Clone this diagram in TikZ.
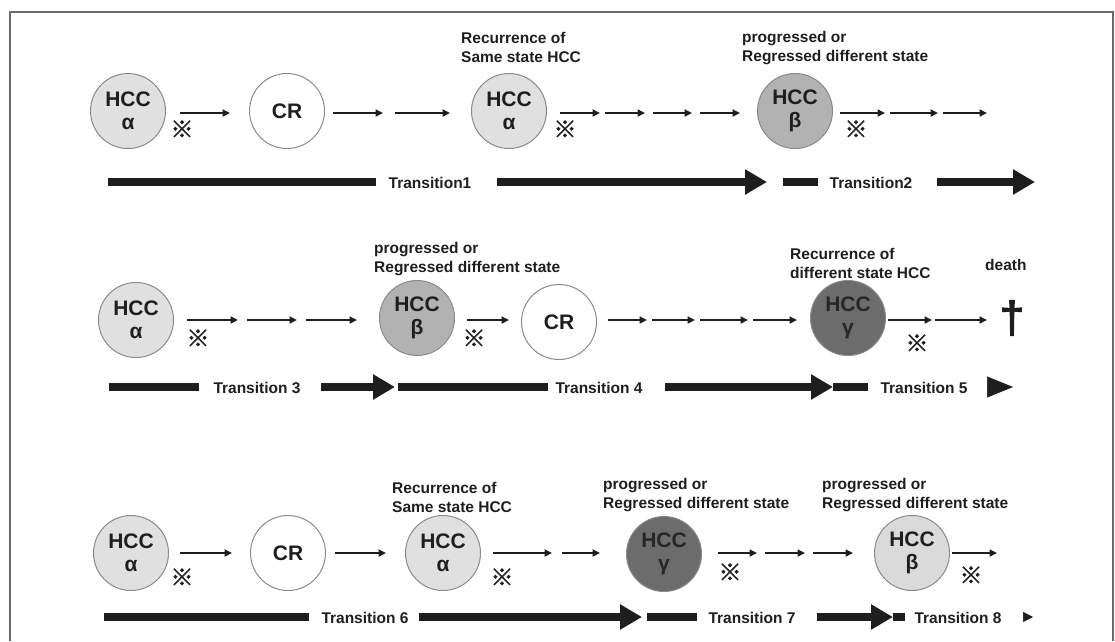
\documentclass[tikz,border=0pt]{standalone}
\usepackage{fontspec}
\setmainfont{Liberation Sans}
\newfontfamily\cjk{Noto Sans CJK JP}[FakeBold=2]
\newfontfamily\heavysans{Liberation Sans}[FakeBold=3]
\usetikzlibrary{arrows.meta,positioning}

\definecolor{inkgray}{HTML}{1E1E1E}
\definecolor{rimgray}{HTML}{8A8A8A}
\definecolor{framegray}{HTML}{6A6A6A}
\definecolor{lightfill}{HTML}{E0E0E0}
\definecolor{midfill}{HTML}{B2B2B2}
\definecolor{darkfill}{HTML}{6C6C6C}
\definecolor{palefill}{HTML}{DADADA}

\tikzset{
  state/.style={circle, draw=rimgray, line width=1pt, minimum size=75pt,
    inner sep=0pt, align=center, text=inkgray,
    font=\fontsize{21}{22.5}\selectfont\bfseries},
  hccA/.style={state, fill=lightfill},
  hccB/.style={state, fill=midfill},
  hccG/.style={state, fill=darkfill, text=black!85},
  hccP/.style={state, fill=palefill},
  remit/.style={state, fill=white},
  flow/.style={-{Triangle[width=7pt,length=7.5pt]}, line width=1.8pt, inkgray},
  bar/.style={line width=8pt, inkgray},
  bigarrow/.style={bar, -{Triangle[width=24pt,length=22pt]}},
  note/.style={anchor=base west, align=left, text=inkgray, inner sep=0pt,
    font=\fontsize{15.5}{19}\selectfont\bfseries},
  tlabel/.style={text=inkgray, inner sep=0pt,
    font=\fontsize{15.5}{18}\selectfont\bfseries},
  refmark/.style={text=inkgray, inner sep=0pt, font=\fontsize{23}{23}\selectfont\cjk}
}

\begin{document}
\begin{tikzpicture}[x=1pt,y=-1pt]
\useasboundingbox (0,0) rectangle (1115,641);
\draw[framegray, line width=1.3pt] (10,641) -- (10,12) -- (1113,12) -- (1113,641);

% row 1
\node[hccA]  (a1) at (128,111) {HCC\\α};
\node[remit] (c1) at (287,111) {CR};
\node[hccA]  (a2) at (509,111) {HCC\\α};
\node[hccB]  (b1) at (795,111) {HCC\\β};
\node[refmark] (m1) at (182,129) {※};
\node[refmark] (m2) at (565,129) {※};
\node[refmark] (m3) at (856,129) {※};
\node[note] (l1) at (461,62) {Recurrence of\\Same state HCC};
\node[note] (l2) at (742,61) {progressed or\\Regressed different state};
\foreach \i/\a/\b in {1/180/230, 2/333/383, 3/395/450, 4/560/600, 5/605/645,
    6/653/692, 7/700/740, 8/840/885, 9/890/938, 10/943/987}{
  \coordinate (p1\i) at (\a,113);
  \coordinate (q1\i) at (\b,113);
  \draw[flow] (p1\i) -- (q1\i);
}
\node[tlabel] (t1) at (430,183) {Transition1};
\node[tlabel] (t2) at (871,183) {Transition2};
\draw[bar] (108,182) -- (376,182);
\draw[bigarrow] (497,182) -- (767,182);
\draw[bar] (783,182) -- (818,182);
\draw[bigarrow] (937,182) -- (1035,182);

% row 2
\node[hccA]  (a3) at (136,320) {HCC\\α};
\node[hccB]  (b2) at (417,318) {HCC\\β};
\node[remit] (c2) at (559,322) {CR};
\node[hccG]  (g1) at (848,318) {HCC\\γ};
\node[refmark] (m4) at (198,338) {※};
\node[refmark] (m5) at (474,338) {※};
\node[refmark] (m6) at (917,343) {※};
\node[note] (l3) at (374,272) {progressed or\\Regressed different state};
\node[note] (l4) at (790,278) {Recurrence of\\different state HCC};
\node[note] (l5) at (985,270) {death};
\node[text=inkgray, inner sep=0pt, font=\fontsize{44}{44}\selectfont\heavysans] (dth) at (1012,318) {†};
\foreach \i/\a/\b in {1/187/238, 2/247/297, 3/306/357, 4/467/509, 5/608/647,
    6/652/695, 7/700/748, 8/753/797, 9/888/932, 10/935/987}{
  \coordinate (p2\i) at (\a,320);
  \coordinate (q2\i) at (\b,320);
  \draw[flow] (p2\i) -- (q2\i);
}
\node[tlabel] (t3) at (257,388) {Transition 3};
\node[tlabel] (t4) at (599,388) {Transition 4};
\node[tlabel] (t5) at (924,388) {Transition 5};
\draw[bar] (109,387) -- (199,387);
\draw[bigarrow] (321,387) -- (395,387);
\draw[bar] (398,387) -- (548,387);
\draw[bigarrow] (665,387) -- (833,387);
\draw[bar] (833,387) -- (868,387);
\draw[inkgray, line width=0.5pt, -{Triangle[width=21pt,length=26pt]}] (987,387) -- (1013,387);

% row 3
\node[hccA]  (a4) at (131,553) {HCC\\α};
\node[remit] (c3) at (288,553) {CR};
\node[hccA]  (a5) at (443,553) {HCC\\α};
\node[hccG]  (g2) at (664,554) {HCC\\γ};
\node[hccP]  (b3) at (912,553) {HCC\\β};
\node[refmark] (m7) at (182,577) {※};
\node[refmark] (m8) at (502,577) {※};
\node[refmark] (m9) at (730,572) {※};
\node[refmark] (m10) at (971,575) {※};
\node[note] (l6) at (392,512) {Recurrence of\\Same state HCC};
\node[note] (l7) at (603,508) {progressed or\\Regressed different state};
\node[note] (l8) at (822,508) {progressed or\\Regressed different state};
\foreach \i/\a/\b in {1/180/232, 2/335/386, 3/493/552, 4/562/600, 5/718/757,
    6/765/805, 7/813/853, 8/952/997}{
  \coordinate (p3\i) at (\a,553);
  \coordinate (q3\i) at (\b,553);
  \draw[flow] (p3\i) -- (q3\i);
}
\node[tlabel] (t6) at (365,618) {Transition 6};
\node[tlabel] (t7) at (752,618) {Transition 7};
\node[tlabel] (t8) at (958,618) {Transition 8};
\draw[bar] (104,617) -- (309,617);
\draw[bigarrow] (419,617) -- (642,617);
\draw[bar] (647,617) -- (697,617);
\draw[bigarrow] (817,617) -- (893,617);
\draw[bar] (893,617) -- (905,617);
\draw[inkgray, line width=0.5pt, -{Triangle[width=10pt,length=10pt]}] (1023,617) -- (1033,617);
\end{tikzpicture}
\end{document}
